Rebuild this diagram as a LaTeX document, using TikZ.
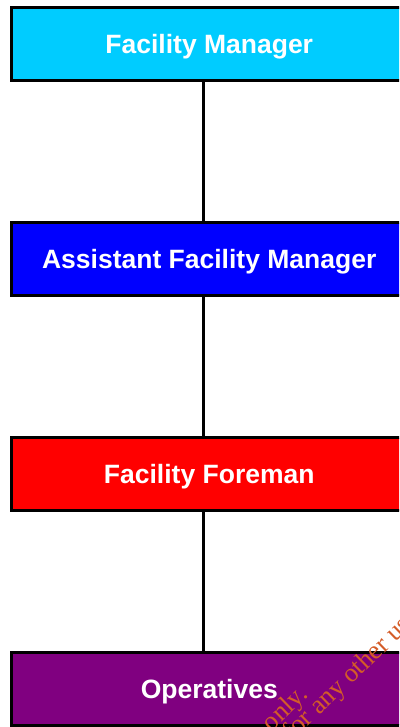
\documentclass[tikz,border=0pt]{standalone}
\usepackage{fontspec}
\setmainfont{Liberation Sans}
\newfontfamily\wmfont{Liberation Serif}
\definecolor{fmcyan}{RGB}{0,204,255}
\definecolor{afmblue}{RGB}{0,0,255}
\definecolor{forered}{RGB}{255,0,0}
\definecolor{opspurple}{RGB}{128,0,128}
\definecolor{wmorange}{RGB}{212,92,40}
\begin{document}
\begin{tikzpicture}[x=1pt,y=-1pt,line width=3pt,
                    post/.style={draw=black,minimum width=395.5pt,minimum height=73pt,inner sep=0pt,text height=19pt,text depth=0pt,text=white,font=\fontsize{26.5}{30}\selectfont\bfseries},
                    wm/.style={text=wmorange,rotate=44,inner sep=0pt,font=\wmfont\fontsize{26.5}{30}\selectfont}]
                     \useasboundingbox (0,0) rectangle (399,727);
                     \clip (0,0) rectangle (399,727);
                     \node[post,fill=fmcyan]    (fm)  at (209.25,44)    {Facility Manager};
                     \node[post,fill=afmblue]   (afm) at (209.25,259.25) {Assistant Facility Manager};
                     \node[post,fill=forered]   (ff)  at (209.25,474.25) {Facility Foreman};
                     \node[post,fill=opspurple] (ops) at (209.25,688.75) {Operatives};
                     \draw ([xshift=-5.75pt]fm.south)  -- ([xshift=-5.75pt]afm.north);
                     \draw ([xshift=-5.75pt]afm.south) -- ([xshift=-5.75pt]ff.north);
                     \draw ([xshift=-5.75pt]ff.south)  -- ([xshift=-5.75pt]ops.north);
                     \node[wm,anchor=base east] (wmonly) at (310,695) {only.};
                     \node[wm,anchor=base west] (wmuse)  at (291,743) {for any other use};
                 \end{tikzpicture}
\end{document}
